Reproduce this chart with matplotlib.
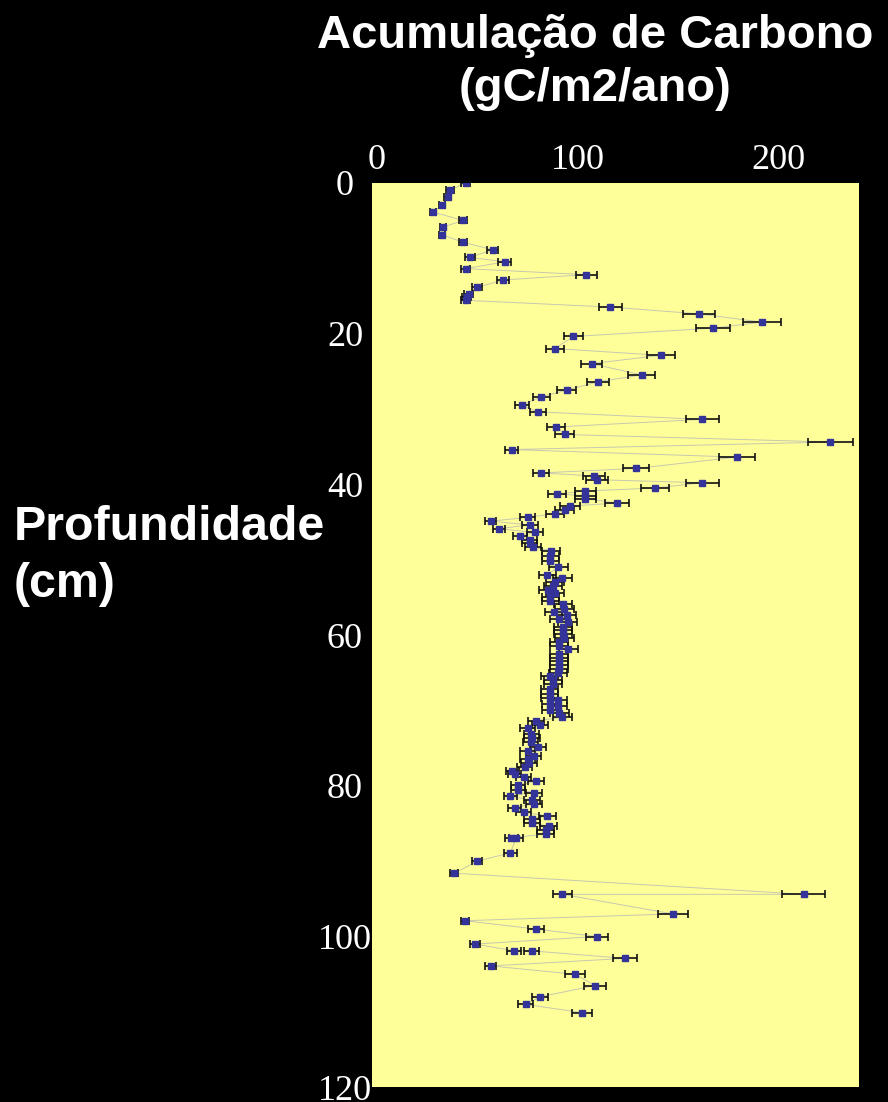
import numpy as np
import matplotlib
matplotlib.use("Agg")
import matplotlib.pyplot as plt

# depth (cm) and carbon accumulation (gC/m2/ano)
depth = [0.0, 1.0, 1.9, 3.0, 3.9, 5.0, 5.9, 6.9, 7.9, 8.9, 9.9, 10.5, 11.4, 12.2, 12.9,
         13.9, 14.7, 15.2, 15.6, 16.5, 17.4, 18.5, 19.3, 20.4, 22.0, 22.9, 24.0, 25.5,
         26.4, 27.5, 28.4, 29.5, 30.4, 31.4, 32.4, 33.4, 34.4, 35.4, 36.4, 37.9, 38.5,
         38.9, 39.4, 39.8, 40.5, 40.9, 41.3, 41.5, 41.9, 42.5, 42.9, 43.4, 43.9, 44.4,
         44.9, 45.4, 45.9, 46.4, 46.9, 47.4, 47.8, 48.3, 48.8,
         49.5, 50.2, 51.0, 52.0, 52.4, 53.0, 53.5, 54.0, 54.4, 55.0, 55.5, 55.9, 56.5,
         56.9, 57.4, 57.9, 58.3, 58.9, 59.4, 59.9, 60.4, 60.9, 61.4, 61.9, 62.5, 63.0,
         63.5, 64.0, 64.5, 65.0, 65.5, 66.0, 66.5, 67.2, 67.8, 68.3, 68.6, 69.1, 69.4,
         69.9, 70.4, 70.9,
         71.4, 71.9, 72.4, 73.1, 73.6, 74.2, 74.9, 75.4, 76.0, 76.5, 77.0, 77.5, 78.0,
         78.5, 78.9, 79.4, 79.9, 80.5, 80.9, 81.4, 81.9, 82.4, 82.9, 83.5, 84.0, 84.4,
         84.9, 85.4, 85.9, 86.4, 86.9, 86.9, 88.9, 90.0, 91.6, 94.4, 94.4, 97.0, 97.9,
         99.0, 100.0, 101.0, 101.9, 101.9, 102.9, 103.9, 105.0, 106.5, 108.0, 109.0, 110.1]

carbono = [44.3, 36.5, 35.2, 32.5, 27.9, 42.9, 33.0, 32.5, 42.9, 57.7, 46.4, 63.7, 44.3, 104.3, 62.8,
           50.1, 45.8, 44.8, 44.3, 116.3, 160.7, 191.9, 167.5, 98.0, 88.7, 141.5, 107.0, 132.0,
           110.4, 94.7, 82.0, 72.3, 80.2, 162.2, 89.5, 93.7, 226.0, 67.2, 179.6, 129.3, 81.9,
           108.1, 109.5, 162.3, 138.7, 103.8, 89.7, 103.8, 103.8, 119.8, 96.2, 93.7, 88.7, 75.1,
           56.7, 76.3, 60.7, 79.0, 71.5, 76.1, 76.1, 77.8, 86.7,
           86.5, 86.5, 90.5, 84.9, 92.5, 88.7, 87.9, 85.2, 88.7, 86.4, 86.4, 92.7, 93.5,
           88.1, 94.7, 90.7, 95.2, 92.7, 92.7, 92.7, 93.5, 90.7, 90.7, 95.4, 90.7, 90.7,
           90.7, 90.7, 90.7, 90.4, 86.1, 87.7, 87.7, 86.1, 86.1, 86.1, 90.2, 86.5, 90.2,
           86.5, 91.0, 92.4,
           79.1, 81.4, 75.3, 77.0, 77.3, 76.6, 80.3, 75.3, 78.1, 75.3, 75.8, 73.6, 67.5,
           68.6, 73.1, 79.1, 70.5, 70.5, 78.3, 66.5, 77.3, 78.3, 68.6, 73.1, 84.9, 77.3,
           77.3, 85.7, 84.1, 84.1, 67.0, 69.5, 66.5, 50.1, 38.5, 212.8, 92.5, 147.5, 43.9,
           79.1, 109.6, 48.9, 68.5, 77.1, 123.7, 56.7, 98.9, 108.6, 81.4, 74.1, 102.3]

depth = np.array(depth)
carbono = np.array(carbono)
erro = 0.05 * carbono

x_ticks = [0, 100, 200]
y_ticks = [0, 20, 40, 60, 80, 100, 120]

fig = plt.figure(figsize=(8.88, 11.02), dpi=100, facecolor="black")
ax = fig.add_axes([372.3 / 888, 14.7 / 1102, 486.4 / 888, 904.6 / 1102])
ax.set_facecolor("#FFFF99")

ax.plot(carbono, depth, color="#C8C8B0", lw=0.7, zorder=1)
ax.errorbar(carbono, depth, xerr=erro, fmt="none", ecolor="#111111",
            elinewidth=1.2, capsize=2.6, capthick=1.2, zorder=2)
ax.plot(carbono, depth, "s", color="#333399", ms=5, mec="#333399", zorder=3)

ax.set_xlim(-2.3, 240.2)
ax.set_ylim(120, 0)
ax.xaxis.tick_top()
ax.set_xticks(x_ticks)
ax.set_yticks(y_ticks)
ax.set_xticklabels([str(v) for v in x_ticks], family="Liberation Serif", fontsize=26, color="white")
ax.set_yticklabels([str(v) for v in y_ticks], family="Liberation Serif", fontsize=26, color="white")
for lab in ax.get_yticklabels():
    lab.set_horizontalalignment("center")
ax.tick_params(axis="x", length=0, pad=4)
ax.tick_params(axis="y", length=0, pad=19.7)
for s in ax.spines.values():
    s.set_visible(False)

fig.text(595 / 888, 1 - 48 / 1102, "Acumulação de Carbono", ha="center", va="baseline",
         family="Liberation Sans", weight="bold", fontsize=34, color="white")
fig.text(595 / 888, 1 - 101 / 1102, "(gC/m2/ano)", ha="center", va="baseline",
         family="Liberation Sans", weight="bold", fontsize=34, color="white")
fig.text(14 / 888, 1 - 540 / 1102, "Profundidade", ha="left", va="baseline",
         family="Liberation Sans", weight="bold", fontsize=34.8, color="white")
fig.text(14 / 888, 1 - 597 / 1102, "(cm)", ha="left", va="baseline",
         family="Liberation Sans", weight="bold", fontsize=34.8, color="white")

fig.savefig("out.png", dpi=100, facecolor="black")
